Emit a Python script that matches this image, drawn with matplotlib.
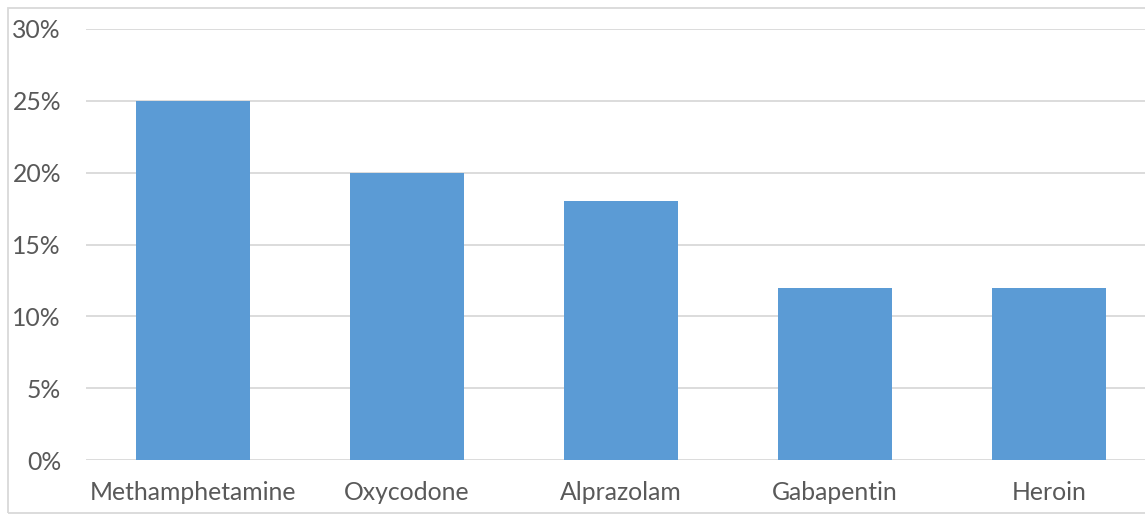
import matplotlib
matplotlib.use("Agg")
import matplotlib.pyplot as plt
from matplotlib.patches import Rectangle
from matplotlib.ticker import FuncFormatter

categories = ["Methamphetamine", "Oxycodone", "Alprazolam", "Gabapentin", "Heroin"]
shares = [25, 20, 18, 12, 12]
y_ticks = [0, 5, 10, 15, 20, 25, 30]

W, H = 1145, 516
fig = plt.figure(figsize=(W / 100, H / 100), dpi=100)
plt.rcParams["font.family"] = ["Lato", "DejaVu Sans"]

# plot area in pixels; the category axis runs slightly past the right edge
left_px, right_px, top_px, bottom_px = 86, 1145, 29, 460
slot_px = 214
ax = fig.add_axes([left_px / W, 1 - bottom_px / H,
                   (right_px - left_px) / W, (bottom_px - top_px) / H])

x = range(len(categories))
ax.bar(x, shares, width=0.533, color="#5B9BD5", zorder=3)

ax.set_xlim(-0.5, 4.5 - (1156 - right_px) / slot_px)
ax.set_ylim(0, 30)
ax.set_yticks(y_ticks)
ax.yaxis.set_major_formatter(FuncFormatter(lambda v, p: f"{v:.0f}%"))
ax.set_xticks(list(x))
ax.set_xticklabels(categories)

ax.grid(axis="y", color="#D9D9D9", linewidth=1.3, zorder=0)
for s in ax.spines.values():
    s.set_visible(False)
ax.tick_params(length=0, labelsize=17.8, labelcolor="#595959")
ax.tick_params(axis="y", pad=18)
ax.tick_params(axis="x", pad=15)

# chart border
fig.patches.append(Rectangle((8 / W, 1 - 513 / H), 1.2, (513 - 8) / H,
                             transform=fig.transFigure, fill=False,
                             edgecolor="#D9D9D9", linewidth=1.3))

fig.savefig("out.png", dpi=100)
